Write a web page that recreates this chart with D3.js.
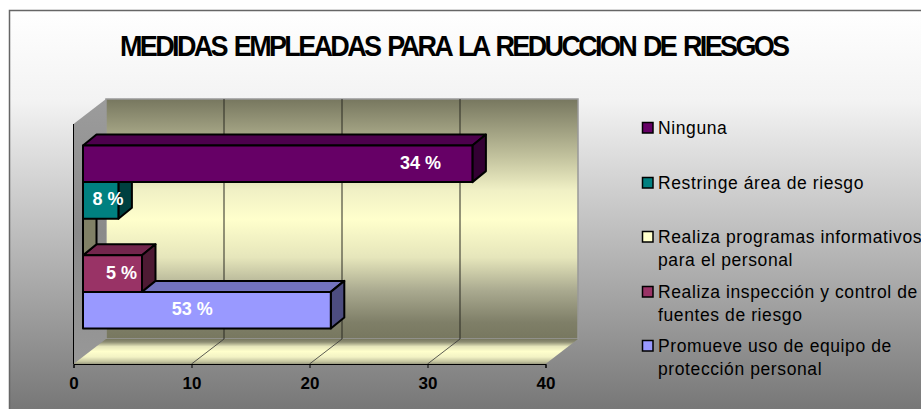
<!DOCTYPE html>
<html lang="es">

<head>
    <meta charset="utf-8">
    <title>Medidas empleadas</title>
    <script src="https://d3js.org/d3.v7.min.js"></script>
    <style>
        body { margin: 0; background: #fff; overflow: hidden; }
        svg { display: block; font-family: "Liberation Sans", Arial, sans-serif; }
    </style>
</head>

<body>
    <div id="chart"></div>
    <script>
        // values, listed top to bottom as in the legend
        var categories = ["Ninguna", "Restringe área de riesgo", "Realiza programas informativos", "Realiza inspección y control", "Promueve uso de equipo"]
        var values = [33, 3, 0, 5, 21]
        var valueLabels = ["34 %", "8 %", "", "5 %", "53 %"]
        var legendLines = [
            ["Ninguna"],
            ["Restringe área de riesgo"],
            ["Realiza programas informativos", "para el personal"],
            ["Realiza inspección y control de", "fuentes de riesgo"],
            ["Promueve uso de equipo de", "protección personal"]
        ]
        var xTicks = [0, 10, 20, 30, 40]
        var titleText = "MEDIDAS EMPLEADAS PARA LA REDUCCION DE RIESGOS"

        // styles and layout
        var colors = ["#660066", "#008080", "#ffffcc", "#993366", "#9999ff"]
        var labelShift = [-52, -10.5, 0, -20.5, -138.5]
        var legendY = [128, 183, 237, 292, 346]

        var width = 921
        var height = 409
        var front = { left: 73.5, right: 545.5, top: 124, bottom: 364 }
        var wallDepth = { x: 32.5, y: -25 }
        var barDepth = { x: 13.5, y: -11 }
        var barInset = { x: 9.5, y: -7 }

        var x = d3.scaleLinear().domain([0, 40]).range([front.left, front.right])
        var y = d3.scaleBand().domain(categories).range([front.top, front.bottom]).paddingInner(0).paddingOuter(0.78)

        var svg = d3.select("#chart").append("svg").attr("width", width).attr("height", height)
        var defs = svg.append("defs")

        function vertical(id, stops, y1, y2) {
            var g = defs.append("linearGradient").attr("id", id)
                .attr("gradientUnits", "userSpaceOnUse")
                .attr("x1", 0).attr("x2", 0).attr("y1", y1).attr("y2", y2)
            stops.forEach(function(s) {
                g.append("stop").attr("offset", s[0]).attr("stop-color", s[1])
            })
        }
        var wallStops = [[0, "#77775f"], [0.25, "#c5c5a0"], [0.38, "#f0f0c5"], [0.5, "#ffffcc"],
            [0.66, "#e6e6bb"], [0.8, "#a9a98f"], [0.93, "#7f7f68"], [1, "#77775f"]]
        var floorStops = [[0, "#77775f"], [0.12, "#8c8c72"], [0.3, "#e6e6bb"], [0.5, "#ffffcc"],
            [0.72, "#f2f2c4"], [0.9, "#c5c5a0"], [1, "#9a9a80"]]
        vertical("panel", [[0, "#ffffff"], [0.226, "#f3f3f3"], [1, "#777777"]], 10, 409)
        vertical("wall", wallStops, front.top + wallDepth.y, front.bottom + wallDepth.y)
        vertical("floor", floorStops, front.bottom + wallDepth.y, front.bottom)
        vertical("side", [[0, "#9c9c9c"], [0.5, "#8a8a8a"], [1, "#989898"]], front.top + wallDepth.y, front.bottom)

        function poly(pts) {
            return "M" + pts.map(function(p) { return p.join(",") }).join("L") + "Z"
        }
        function shade(c, k) {
            var r = d3.rgb(c)
            return d3.rgb(r.r * k, r.g * k, r.b * k).formatHex()
        }

        // panel
        svg.append("rect").attr("x", 9.5).attr("y", 10.5).attr("width", width).attr("height", height)
            .attr("fill", "url(#panel)").attr("stroke", "#666").attr("stroke-width", 1.5)

        // the original title is tall and tightly squeezed
        svg.append("text").attr("transform", "translate(120,56) scale(1,1.08)")
            .style("font-size", "27px").style("font-weight", "bold")
            .style("letter-spacing", "-2.65px").style("word-spacing", "3px").attr("fill", "#000")
            .text(titleText)

        // walls and floor
        var backLeft = front.left + wallDepth.x
        var backRight = front.right + wallDepth.x
        var backTop = front.top + wallDepth.y
        var backBottom = front.bottom + wallDepth.y

        svg.append("path")
            .attr("d", poly([[backLeft, backTop], [backRight, backTop], [backRight, backBottom], [backLeft, backBottom]]))
            .attr("fill", "url(#wall)").attr("stroke", "#999").attr("stroke-width", 1.5)
        svg.append("path")
            .attr("d", poly([[front.left, front.bottom], [front.left, front.top], [backLeft, backTop], [backLeft, backBottom]]))
            .attr("fill", "url(#side)")
        svg.append("path")
            .attr("d", poly([[front.left, front.bottom], [front.right, front.bottom], [backRight, backBottom], [backLeft, backBottom]]))
            .attr("fill", "url(#floor)")

        // gridlines on the wall and across the floor
        var inner = xTicks.slice(1, -1)
        svg.selectAll(".grid").data(inner).enter().append("line")
            .attr("x1", function(d) { return x(d) + wallDepth.x })
            .attr("x2", function(d) { return x(d) + wallDepth.x })
            .attr("y1", backTop).attr("y2", backBottom)
            .attr("stroke", "#2b2b22").attr("stroke-width", 1)
        svg.selectAll(".gridFloor").data(inner).enter().append("line")
            .attr("x1", function(d) { return x(d) })
            .attr("x2", function(d) { return x(d) + wallDepth.x })
            .attr("y1", front.bottom).attr("y2", backBottom)
            .attr("stroke", "#333").attr("stroke-width", 0.8)

        // bars, bottom one first so the upper ones overlap it
        var rows = categories.map(function(c, i) {
            return { cat: c, value: values[i], label: valueLabels[i], color: colors[i], shift: labelShift[i] }
        }).reverse()

        rows.forEach(function(d) {
            var x0 = x(0) + barInset.x
            var x1 = x(d.value) + barInset.x
            var y0 = y(d.cat) + barInset.y
            var y1 = y0 + y.bandwidth()
            var dx = barDepth.x
            var dy = barDepth.y
            var g = svg.append("g").attr("stroke", "#000").attr("stroke-width", 2).attr("stroke-linejoin", "round")

            g.append("path").attr("d", poly([[x0, y0], [x0 + dx, y0 + dy], [x1 + dx, y0 + dy], [x1, y0]]))
                .attr("fill", shade(d.color, 0.75))
            g.append("path").attr("d", poly([[x1, y0], [x1 + dx, y0 + dy], [x1 + dx, y1 + dy], [x1, y1]]))
                .attr("fill", shade(d.color, 0.5))
            if (d.value > 0) {
                g.append("rect").attr("x", x0).attr("y", y0).attr("width", x1 - x0).attr("height", y1 - y0)
                    .attr("fill", d.color)
            }
        })

        rows.filter(function(d) { return d.label }).forEach(function(d) {
            svg.append("text")
                .attr("x", x(d.value) + barInset.x + d.shift)
                .attr("y", y(d.cat) + barInset.y + y.bandwidth() / 2 - 1.5)
                .attr("dy", "0.36em").attr("text-anchor", "middle")
                .style("font-size", "18px").style("font-weight", "bold").attr("fill", "#fff")
                .text(d.label)
        })

        // axes
        svg.append("line").attr("x1", front.left).attr("x2", front.left)
            .attr("y1", front.top).attr("y2", front.bottom).attr("stroke", "#000")

        var xAxis = svg.append("g").attr("transform", "translate(0," + front.bottom + ")")
            .call(d3.axisBottom(x).tickValues(xTicks).tickSize(4).tickPadding(9))
        xAxis.selectAll("path, line").attr("stroke", "#000")
        xAxis.selectAll("text").attr("fill", "#000")
            .style("font-size", "17px").style("font-weight", "bold")
            .style("font-family", "'Liberation Sans', Arial, sans-serif")

        // legend
        var legend = svg.selectAll(".legend").data(categories).enter().append("g")
        legend.append("rect").attr("x", 642.5)
            .attr("y", function(d, i) { return legendY[i] - 5.5 })
            .attr("width", 10.5).attr("height", 10.5)
            .attr("fill", function(d, i) { return colors[i] })
            .attr("stroke", "#000").attr("stroke-width", 1.5)
        legend.each(function(d, i) {
            d3.select(this).selectAll("text").data(legendLines[i]).enter().append("text")
                .attr("x", 658)
                .attr("y", function(t, j) { return legendY[i] + 6 + j * 23 })
                .style("font-size", "17.5px").style("letter-spacing", "0.6px").attr("fill", "#000")
                .text(function(t) { return t })
        })
    </script>
</body>

</html>
